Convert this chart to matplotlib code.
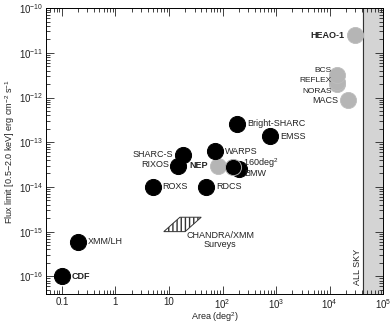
import matplotlib.pyplot as plt
from matplotlib.patches import Polygon
from matplotlib.ticker import FixedLocator, FixedFormatter, NullFormatter

plt.rcParams['font.family'] = ['Liberation Sans', 'DejaVu Sans']
plt.rcParams['mathtext.fontset'] = 'custom'
plt.rcParams['mathtext.rm'] = 'Liberation Sans'

# surveys: area (deg^2), flux limit (erg cm^-2 s^-1)
black_names = ['CDF', 'XMM/LH', 'ROXS', 'RIXOS', 'SHARC-S', 'RDCS', 'WARPS',
               'BMW', '160deg$^2$', 'Bright-SHARC', 'EMSS']
black_area = [0.1, 0.2, 5, 15, 18, 50, 72, 200, 160, 190, 780]
black_flux = [1e-16, 6e-16, 1e-14, 3e-14, 5.2e-14, 1e-14, 6.3e-14,
              2.5e-14, 2.8e-14, 2.6e-13, 1.35e-13]

grey_names = ['NEP', 'MACS', 'NORAS', 'REFLEX', 'BCS', 'HEAO-1']
grey_area = [81, 22000, 14000, 14000, 14000, 30000]
grey_flux = [3e-14, 8.6e-13, 2.0e-12, 2.2e-12, 3.2e-12, 2.5e-11]

# CHANDRA/XMM surveys region
chandra_area = [8, 20, 40, 16]
chandra_flux = [1e-15, 1e-15, 2.1e-15, 2.1e-15]

all_sky = 41253
flux_ticks = [1e-16, 1e-15, 1e-14, 1e-13, 1e-12, 1e-11, 1e-10]
flux_labels = ['10$^{-16}$', '10$^{-15}$', '10$^{-14}$', '10$^{-13}$',
               '10$^{-12}$', '10$^{-11}$', '10$^{-10}$']
area_ticks = [0.1, 1, 10, 1e2, 1e3, 1e4, 1e5]
area_labels = ['0.1', '1', '10', '10$^2$', '10$^3$', '10$^4$', '10$^5$']

# label offsets in points (dx, dy, ha)
offsets = {
    'CDF': (7, 0, 'left'), 'XMM/LH': (7, 0, 'left'), 'ROXS': (7, 0, 'left'),
    'RIXOS': (-7, 1, 'right'), 'SHARC-S': (-7, 0, 'right'),
    'RDCS': (7, 0, 'left'), 'WARPS': (7, 0, 'left'),
    'BMW': (4, -3, 'left'), '160deg$^2$': (7, 3, 'left'),
    'Bright-SHARC': (7, 0, 'left'), 'EMSS': (7, 0, 'left'),
    'NEP': (-7, 0, 'right'), 'MACS': (-7, 0, 'right'),
    'NORAS': (-4, -5.5, 'right'), 'REFLEX': (-4, 1, 'right'),
    'BCS': (-4, 3, 'right'), 'HEAO-1': (-8, 0, 'right'),
}
bold = ['CDF', 'NEP', 'HEAO-1']

fig = plt.figure(figsize=(3.91, 3.25), dpi=100)
ax = fig.add_axes([0.117, 0.095, 0.863, 0.88])
ax.set_xscale('log')
ax.set_yscale('log')
ax.set_xlim(0.05, 1e5)
ax.set_ylim(4e-17, 1e-10)

ax.axvspan(all_sky, 1e5, color='#d4d4d4', zorder=0)
ax.axvline(all_sky, color='#333333', lw=0.8, zorder=1)
ax.text(all_sky * 0.82, 6.5e-17, 'ALL SKY', rotation=90, ha='center',
        va='bottom', fontsize=6.5, color='#222222')

ax.add_patch(Polygon(list(zip(chandra_area, chandra_flux)), closed=True,
                     facecolor='white', edgecolor='#333333', hatch='||||',
                     lw=0.7))
ax.text(21, 1.05e-15, 'CHANDRA/XMM\nSurveys', ha='left', va='top',
        fontsize=6.5, color='#222222', linespacing=1.0,
        multialignment='center')

ax.scatter(grey_area, grey_flux, s=135, color='#b5b5b5', edgecolor='#bdbdbd',
           linewidth=0.6, zorder=3)
for i in range(len(black_area)):
    ec = '#aaaaaa' if black_names[i] == '160deg$^2$' else 'black'
    ax.scatter(black_area[i], black_flux[i], s=135, color='black',
               edgecolor=ec, linewidth=0.7, zorder=4)

for names, xs, ys in [(black_names, black_area, black_flux),
                      (grey_names, grey_area, grey_flux)]:
    for n, x, y in zip(names, xs, ys):
        dx, dy, ha = offsets[n]
        fs = 6 if n in ['BCS', 'REFLEX', 'NORAS'] else 6.5
        ax.annotate(n, (x, y), xytext=(dx, dy), textcoords='offset points',
                    ha=ha, va='center', fontsize=fs, color='#222222',
                    fontweight='bold' if n in bold else 'normal', zorder=5)

ax.xaxis.set_major_locator(FixedLocator(area_ticks))
ax.xaxis.set_major_formatter(FixedFormatter(area_labels))
ax.yaxis.set_major_locator(FixedLocator(flux_ticks))
ax.yaxis.set_major_formatter(FixedFormatter(flux_labels))
ax.xaxis.set_minor_formatter(NullFormatter())
ax.yaxis.set_minor_formatter(NullFormatter())
ax.tick_params(which='both', direction='in', top=True, right=True,
               labelsize=7, colors='#222222', width=0.6, pad=2)
ax.tick_params(which='major', length=6)
ax.tick_params(which='minor', length=3)
for s in ax.spines.values():
    s.set_linewidth(0.7)

ax.set_xlabel('Area (deg$^2$)', fontsize=6.5, labelpad=0, color='#222222')
ax.set_ylabel('Flux limit [0.5$-$2.0 keV] erg cm$^{-2}$ s$^{-1}$',
              fontsize=6.5, labelpad=1, color='#222222')

fig.savefig('out.png', dpi=100)
